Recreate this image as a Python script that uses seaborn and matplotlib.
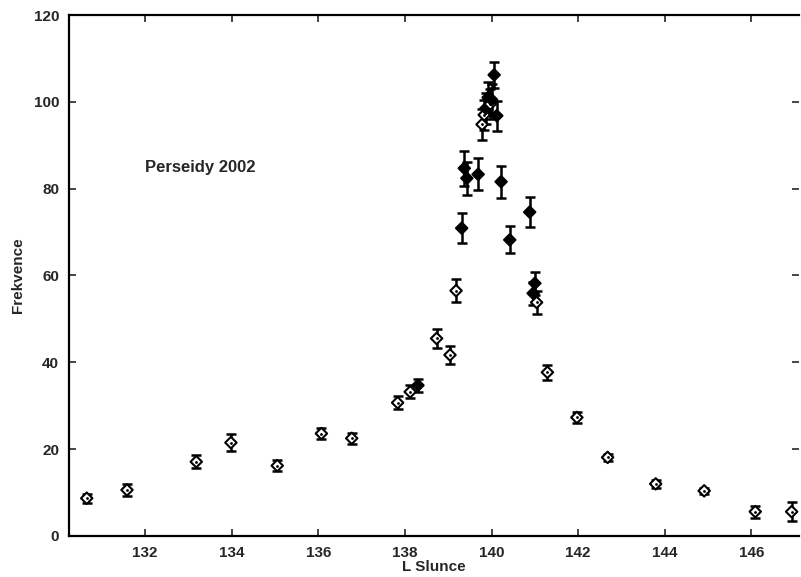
import numpy as np
import pandas as pd
import matplotlib
matplotlib.use('Agg')
import matplotlib.pyplot as plt
import seaborn as sns

# Solar longitude of each observation
l_slunce = [130.65, 131.58, 133.18, 133.98, 135.05, 136.07, 136.77, 137.83, 138.12, 138.30,
            138.73, 139.04, 139.18, 139.31, 139.37, 139.43, 139.69,
            139.78, 139.83, 139.87, 139.92, 139.97, 140.00, 140.06, 140.12,
            140.22, 140.42, 140.88, 140.96, 141.00, 141.04,
            141.29, 141.97, 142.68, 143.79, 144.91, 146.09, 146.93]

# Frequency values
frekvence = [8.7, 10.6, 17.1, 21.5, 16.2, 23.6, 22.5, 30.7, 33.2, 34.7,
             45.5, 41.7, 56.5, 70.9, 84.7, 82.4, 83.3,
             94.8, 97.0, 98.5, 101.0, 99.5, 100.5, 106.2, 96.8,
             81.6, 68.2, 74.6, 55.9, 58.2, 53.8,
             37.7, 27.3, 18.1, 12.0, 10.4, 5.6, 5.6]

# Error bar half-lengths
chyba = [1.0, 1.3, 1.5, 1.9, 1.3, 1.2, 1.2, 1.5, 1.5, 1.5,
         2.1, 2.0, 2.7, 3.5, 4.0, 3.8, 3.7,
         3.5, 3.5, 3.5, 3.5, 3.5, 3.5, 3.0, 3.5,
         3.7, 3.1, 3.5, 2.6, 2.7, 2.7,
         1.7, 1.3, 0.8, 1.0, 0.7, 1.4, 2.2]

# Hollow or filled diamond marker
hollow = [True, True, True, True, True, True, True, True, True, False,
          True, True, True, False, False, False, False,
          True, True, False, False, True, False, False, False,
          False, False, False, False, False, True,
          True, True, True, True, True, True, True]

df = pd.DataFrame({'L Slunce': l_slunce, 'Frekvence': frekvence,
                   'err': chyba, 'typ': ['hollow' if h else 'filled' for h in hollow]})

sns.set_style('ticks')
plt.rcParams['font.family'] = ['Liberation Sans', 'DejaVu Sans']
plt.rcParams['font.weight'] = 'bold'

fig = plt.figure(figsize=(8.01, 5.77), dpi=100)
ax = fig.add_axes([0.0861, 0.0711, 0.9114, 0.9029])

# error bars
ax.errorbar(df['L Slunce'], df['Frekvence'], yerr=df['err'], fmt='none',
            ecolor='black', elinewidth=1.8, capsize=3.5, capthick=1.8, zorder=2)

# diamond markers
sns.scatterplot(data=df, x='L Slunce', y='Frekvence', hue='typ',
                palette={'hollow': 'white', 'filled': 'black'},
                marker='D', s=34, edgecolor='black', linewidth=1.5,
                legend=False, ax=ax, zorder=3)
# dot in the middle of the hollow ones
sns.scatterplot(data=df[df['typ'] == 'hollow'], x='L Slunce', y='Frekvence',
                color='black', s=4, linewidth=0, legend=False, ax=ax, zorder=4)

ax.set_xlim(130.24, 147.10)
ax.set_ylim(0, 120)
ax.set_xticks([132, 134, 136, 138, 140, 142, 144, 146])
ax.set_yticks([0, 20, 40, 60, 80, 100, 120])
ax.tick_params(direction='in', top=True, right=True, length=5, width=1.2,
               labelsize=11, pad=7)
for lab in ax.get_xticklabels() + ax.get_yticklabels():
    lab.set_fontweight('bold')

for side in ['left', 'bottom', 'top']:
    ax.spines[side].set_linewidth(1.6)
    ax.spines[side].set_color('black')
ax.spines['right'].set_visible(False)

ax.set_xlabel('L Slunce', fontsize=11, fontweight='bold', labelpad=0)
ax.set_ylabel('Frekvence', fontsize=11, fontweight='bold', labelpad=6)

ax.text(132.0, 84.8, 'Perseidy 2002', fontsize=12, fontweight='bold',
        ha='left', va='center')

fig.savefig('out.png', dpi=100)
